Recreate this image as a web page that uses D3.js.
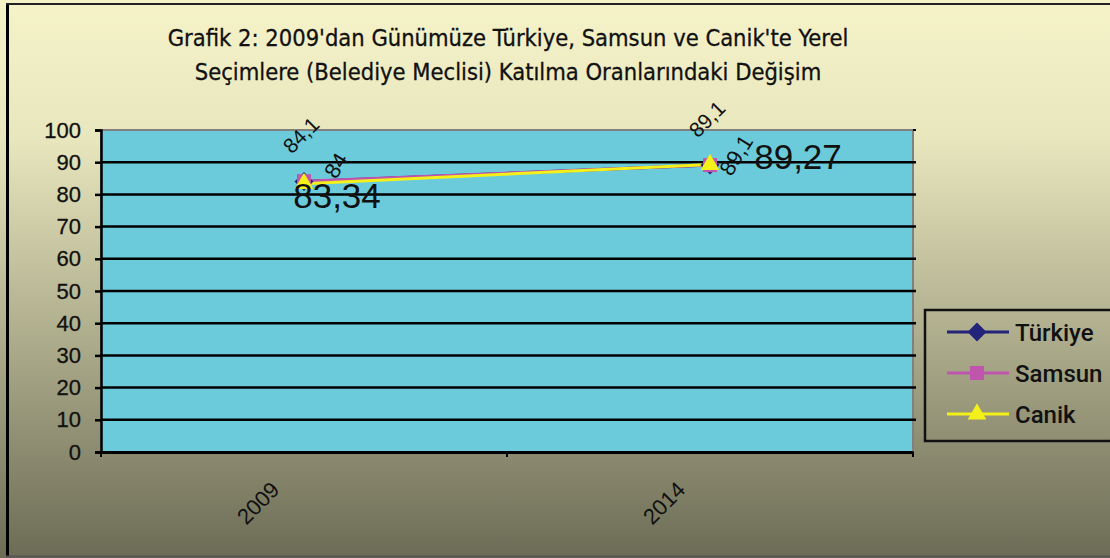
<!DOCTYPE html>
<html>
<head>
<meta charset="utf-8">
<script src="https://cdnjs.cloudflare.com/ajax/libs/d3/7.8.5/d3.min.js"></script>
<style>
  body { margin: 0; padding: 0; overflow: hidden; }
  svg { display: block; }
</style>
</head>
<body>
<div id="chart"></div>
<script>
// data
var years = ["2009", "2014"];
var turkiye = [84, 89.1];
var samsun = [84.1, 89.1];
var canik = [83.34, 89.27];
var yTicks = [0, 10, 20, 30, 40, 50, 60, 70, 80, 90, 100];
var seriesNames = ["Türkiye", "Samsun", "Canik"];

var svgWidth = 1110, svgHeight = 558;
var margin = { top: 130, right: 197, bottom: 106, left: 101 };
var width = svgWidth - margin.left - margin.right;
var height = svgHeight - margin.top - margin.bottom;

var svg = d3.select("#chart").append("svg")
  .attr("width", svgWidth)
  .attr("height", svgHeight);

// background gradient
var defs = svg.append("defs");
var grad = defs.append("linearGradient")
  .attr("id", "bg").attr("x1", 0).attr("y1", 0).attr("x2", 0).attr("y2", 1);
grad.append("stop").attr("offset", "0%").attr("stop-color", "#f6f3c9");
grad.append("stop").attr("offset", "25%").attr("stop-color", "#e8e6bd");
grad.append("stop").attr("offset", "100%").attr("stop-color", "#6c6c56");

svg.append("rect")
  .attr("x", 0).attr("y", 0).attr("width", svgWidth).attr("height", svgHeight)
  .attr("fill", "url(#bg)");
// outer border
svg.append("line").attr("x1", 7.5).attr("x2", 7.5).attr("y1", 3).attr("y2", 556)
  .attr("stroke", "#000").attr("stroke-width", 3);
svg.append("line").attr("x1", 6).attr("x2", svgWidth).attr("y1", 4).attr("y2", 4)
  .attr("stroke", "#222").attr("stroke-width", 2);
svg.append("line").attr("x1", 6).attr("x2", svgWidth).attr("y1", 556.5).attr("y2", 556.5)
  .attr("stroke", "#555").attr("stroke-width", 2);

// title
var title = svg.append("text")
  .attr("text-anchor", "middle")
  .attr("font-family", "'DejaVu Sans Condensed', 'DejaVu Sans', sans-serif")
  .attr("font-size", "23.5px")
  .attr("fill", "#111")
  .attr("stroke", "#111").attr("stroke-width", 0.3);
title.append("tspan").attr("x", 508).attr("y", 46)
  .text("Grafik 2: 2009'dan Günümüze Türkiye, Samsun ve Canik'te Yerel");
title.append("tspan").attr("x", 508).attr("y", 80)
  .text("Seçimlere (Belediye Meclisi) Katılma Oranlarındaki Değişim");

var chartGroup = svg.append("g")
  .attr("transform", `translate(${margin.left}, ${margin.top})`);

var xBand = d3.scaleBand().domain(years).range([0, width]);
var xPos = function(d) { return xBand(d) + xBand.bandwidth() / 2; };
var yLinearScale = d3.scaleLinear().domain([0, 100]).range([height, 0]);

// plot area
chartGroup.append("rect")
  .attr("x", 0).attr("y", 0).attr("width", width).attr("height", height)
  .attr("fill", "#6bcbdb")
  .attr("stroke", "#808080").attr("stroke-width", 2);

// gridlines
chartGroup.selectAll(".grid")
  .data(yTicks.filter(d => d > 0 && d < 100))
  .enter().append("line")
  .attr("x1", 0).attr("x2", width + 3)
  .attr("y1", d => yLinearScale(d)).attr("y2", d => yLinearScale(d))
  .attr("stroke", "#000").attr("stroke-width", 2.5);
chartGroup.append("line")
  .attr("x1", width).attr("x2", width + 3)
  .attr("y1", 0).attr("y2", 0)
  .attr("stroke", "#000").attr("stroke-width", 2);

// y axis
var leftAxis = d3.axisLeft(yLinearScale).tickValues(yTicks).tickSize(6).tickPadding(14);
var yAxis = chartGroup.append("g").call(leftAxis);
yAxis.select(".domain").attr("stroke", "#000").attr("stroke-width", 2.5);
yAxis.selectAll(".tick line").attr("stroke", "#000").attr("stroke-width", 2.5);
yAxis.selectAll("text")
  .attr("font-family", "'Liberation Sans', Arial, sans-serif")
  .attr("font-size", "22px").attr("fill", "#111")
  .attr("stroke", "#111").attr("stroke-width", 0.3);

// x axis
var bottomAxis = d3.axisBottom(xBand).tickSize(0).tickFormat("");
var xAxis = chartGroup.append("g")
  .attr("transform", `translate(0, ${height})`)
  .call(bottomAxis);
xAxis.select(".domain").attr("stroke", "#000").attr("stroke-width", 3);
// category separator ticks
chartGroup.selectAll(".xsep")
  .data([0, width / 2, width])
  .enter().append("line")
  .attr("x1", d => d).attr("x2", d => d)
  .attr("y1", height).attr("y2", height + 5)
  .attr("stroke", "#000").attr("stroke-width", 2);
chartGroup.selectAll(".xlabel")
  .data(years)
  .enter().append("text")
  .attr("transform", d => `translate(${xPos(d) - 46}, ${height + 51}) rotate(-45)`)
  .attr("text-anchor", "middle")
  .attr("dy", "0.35em")
  .attr("font-family", "'Liberation Sans', Arial, sans-serif")
  .attr("font-size", "22px").attr("fill", "#111")
  .text(d => d);

// lines
var series = [
  { name: "Türkiye", values: turkiye, color: "#23237a", marker: "diamond" },
  { name: "Samsun", values: samsun, color: "#c055ad", marker: "square" },
  { name: "Canik", values: canik, color: "#f4f019", marker: "triangle" }
];
var line = d3.line()
  .x((d, i) => xPos(years[i]))
  .y(d => yLinearScale(d));

series.forEach(function(s) {
  chartGroup.append("path")
    .datum(s.values)
    .attr("d", line)
    .attr("fill", "none")
    .attr("stroke", s.color)
    .attr("stroke-width", 3);
});

function markerPath(type) {
  if (type === "diamond") return d3.symbol().type(d3.symbolDiamond2).size(230)();
  if (type === "square") return d3.symbol().type(d3.symbolSquare2).size(250)();
  return d3.symbol().type(d3.symbolTriangle2).size(250)();
}
series.forEach(function(s) {
  chartGroup.selectAll(null)
    .data(s.values)
    .enter().append("path")
    .attr("d", markerPath(s.marker))
    .attr("transform", (d, i) => `translate(${xPos(years[i])}, ${yLinearScale(d)})`)
    .attr("fill", s.color);
});

// data labels (as Excel placed them)
var fmt = function(v) { return String(v).replace(".", ","); };
var labelFont = "'Liberation Sans', Arial, sans-serif";
// Samsun: rotated, upper left
chartGroup.selectAll(null)
  .data(samsun).enter().append("text")
  .attr("transform", (d, i) => `translate(${xPos(years[i]) - 3}, ${yLinearScale(d) - 46}) rotate(-45)`)
  .attr("text-anchor", "middle")
  .attr("dy", "0.35em")
  .attr("font-family", labelFont).attr("font-size", "21px").attr("fill", "#111")
  .text(d => fmt(d));
// Türkiye: rotated, right of point
chartGroup.selectAll(null)
  .data(turkiye).enter().append("text")
  .attr("transform", (d, i) => `translate(${xPos(years[i]) + (i === 0 ? 32 : 26)}, ${yLinearScale(d) - (i === 0 ? 16 : 10)}) rotate(-58)`)
  .attr("text-anchor", "middle")
  .attr("dy", "0.35em")
  .attr("font-family", labelFont).attr("font-size", "22px").attr("fill", "#111")
  .text(d => fmt(d));
// Canik: large
chartGroup.selectAll(null)
  .data(canik).enter().append("text")
  .attr("x", (d, i) => xPos(years[i]) + (i === 0 ? 33 : 88))
  .attr("y", (d, i) => yLinearScale(d) + (i === 0 ? 24 : 4))
  .attr("text-anchor", "middle")
  .attr("font-family", labelFont).attr("font-size", "35px").attr("fill", "#111")
  .text(d => fmt(d));

// legend
var legend = svg.append("g").attr("transform", "translate(925, 310)");
legend.append("rect")
  .attr("x", 0).attr("y", 0).attr("width", 200).attr("height", 131)
  .attr("fill", "none").attr("stroke", "#111").attr("stroke-width", 2.5);
series.forEach(function(s, i) {
  var ly = 22 + i * 41;
  legend.append("line")
    .attr("x1", 22).attr("x2", 84).attr("y1", ly).attr("y2", ly)
    .attr("stroke", s.color).attr("stroke-width", 3);
  legend.append("path")
    .attr("d", markerPath(s.marker))
    .attr("transform", `translate(52, ${ly})`)
    .attr("fill", s.color);
  legend.append("text")
    .attr("x", 90).attr("y", ly).attr("dy", "0.36em")
    .attr("font-family", "Roboto, 'Liberation Sans', sans-serif")
    .attr("font-size", "24px").attr("font-weight", 500).attr("fill", "#111")
    .text(s.name);
});
</script>
</body>
</html>
